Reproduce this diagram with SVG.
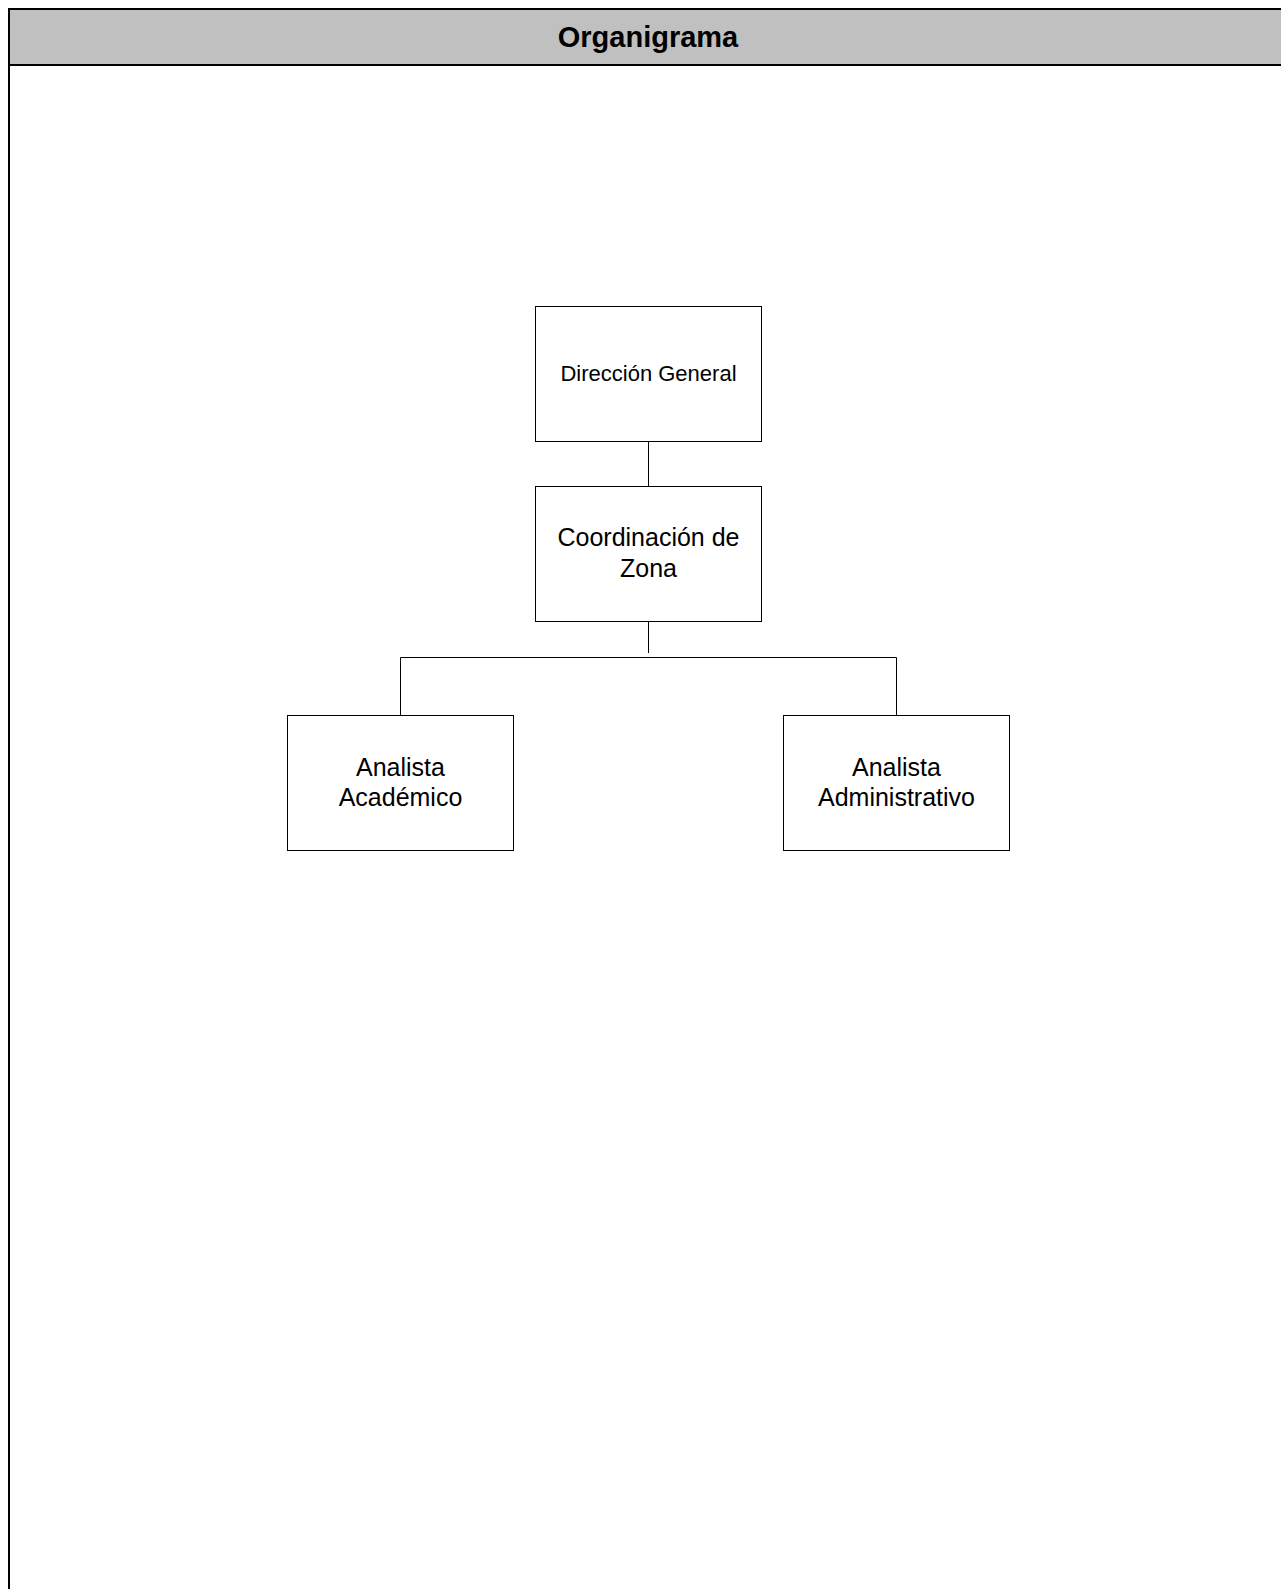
<svg xmlns="http://www.w3.org/2000/svg" width="1281" height="1589" viewBox="0 0 1281 1589">
<style>
.box{fill:#fff;stroke:#000;stroke-width:1}
.lbl{font-family:"Liberation Sans",Arial,sans-serif;fill:#000;text-anchor:middle}
.conn{fill:none;stroke:#000;stroke-width:1}
</style>
<rect x="0" y="0" width="1281" height="1589" fill="#fff"/>
<g id="frame">
<rect x="9" y="9" width="1290" height="56" fill="#c0c0c0" stroke="#000" stroke-width="2"/>
<line x1="9" y1="65" x2="9" y2="1589" stroke="#000" stroke-width="2"/>
<text class="lbl" x="648" y="47" font-size="29" font-weight="bold">Organigrama</text>
</g>
<g id="connectors">
<line class="conn" x1="648.5" y1="441" x2="648.5" y2="486.5"/>
<line class="conn" x1="648.5" y1="621.5" x2="648.5" y2="653"/>
<polyline class="conn" points="400.5,715.5 400.5,657.5 896.5,657.5 896.5,715.5"/>
</g>
<g id="node-direccion">
<rect class="box" x="535.5" y="306.5" width="226" height="135"/>
<text class="lbl" x="648.5" y="381" font-size="22">Dirección General</text>
</g>
<g id="node-coordinacion">
<rect class="box" x="535.5" y="486.5" width="226" height="135"/>
<text class="lbl" x="648.5" y="546" font-size="25">Coordinación de</text>
<text class="lbl" x="648.5" y="577" font-size="25">Zona</text>
</g>
<g id="node-academico">
<rect class="box" x="287.5" y="715.5" width="226" height="135"/>
<text class="lbl" x="400.5" y="776" font-size="25">Analista</text>
<text class="lbl" x="400.5" y="806" font-size="25">Académico</text>
</g>
<g id="node-administrativo">
<rect class="box" x="783.5" y="715.5" width="226" height="135"/>
<text class="lbl" x="896.5" y="776" font-size="25">Analista</text>
<text class="lbl" x="896.5" y="806" font-size="25">Administrativo</text>
</g>
</svg>
